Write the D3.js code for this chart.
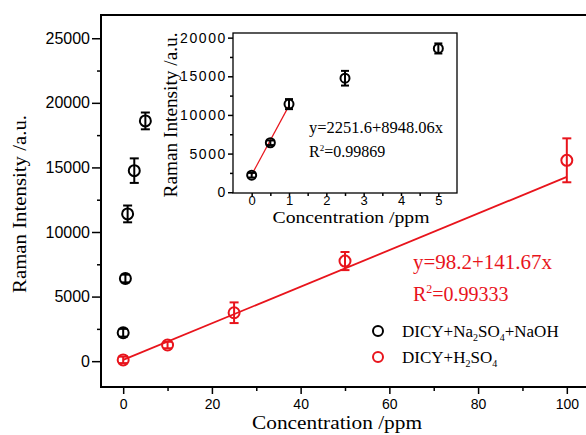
<!DOCTYPE html>
<html><head><meta charset="utf-8">
<script src="https://cdn.jsdelivr.net/npm/d3@7"></script>
<style>
body{margin:0;background:#fff;}
svg{display:block;}
.serif{font-family:"Liberation Serif","Times New Roman",serif;}
.sans{font-family:"Liberation Sans",Arial,sans-serif;}
</style></head><body>
<svg id="c" width="586" height="435"></svg>
<script>
// ---- data ----
const blackX = [0, 0.5, 1, 2.5, 5];
const blackY = [2200, 6400, 11400, 14750, 18600];
const blackErr = [300, 300, 650, 950, 650];
const redX = [0, 10, 25, 50, 100];
const redY = [100, 1250, 3750, 7750, 15550];
const redErr = [250, 250, 800, 700, 1700];
const redFit = [98.2, 141.67];        // intercept, slope
const redFitRange = [0, 100];
const blackFit = [2251.6, 8948.06];
const blackFitRange = [0, 1];
const mainXTicks = [0, 20, 40, 60, 80, 100];
const mainYTicks = [0, 5000, 10000, 15000, 20000, 25000];
const insetXTicks = [0, 1, 2, 3, 4, 5];
const insetYTicks = [0, 5000, 10000, 15000, 20000];
const legendLabels = ["DICY+Na|2|SO|4|+NaOH", "DICY+H|2|SO|4|"];

const svg = d3.select("#c");
const RED = "#e8141c";

// ---- main ----
const x = d3.scaleLinear().domain([-5, 105]).range([101, 589]);
const y = d3.scaleLinear().domain([-2000, 26800]).range([387, 15]);

function axisStyle(g, fs, ls) {
  g.select(".domain").remove();
  g.selectAll("line").attr("stroke", "#000").attr("stroke-width", 1.5);
  g.selectAll("text").attr("class", "sans").attr("font-size", fs).attr("fill", "#000")
    .attr("letter-spacing", ls);
}

// minor ticks
const gxm = svg.append("g").attr("transform", "translate(0,387)")
  .call(d3.axisBottom(x).tickValues([10, 30, 50, 70, 90]).tickSize(4).tickFormat(""));
axisStyle(gxm, 14, 0);
const gx = svg.append("g").attr("transform", "translate(0,387)")
  .call(d3.axisBottom(x).tickValues(mainXTicks).tickSize(7).tickPadding(5).tickFormat(d3.format("d")));
axisStyle(gx, 14, 0);

const gym = svg.append("g").attr("transform", "translate(101,0)")
  .call(d3.axisLeft(y).tickValues([2500, 7500, 12500, 17500, 22500]).tickSize(4).tickFormat(""));
axisStyle(gym, 14, 0);
const gy = svg.append("g").attr("transform", "translate(101,0)")
  .call(d3.axisLeft(y).tickValues(mainYTicks).tickSize(9).tickPadding(2).tickFormat(d3.format("d")));
axisStyle(gy, 16, 0);

// frame
svg.append("rect").attr("x", 101).attr("y", 15).attr("width", 488).attr("height", 372)
  .attr("fill", "none").attr("stroke", "#000").attr("stroke-width", 2);

// axis titles
svg.append("text").attr("class", "serif").attr("x", 337).attr("y", 429)
  .attr("text-anchor", "middle").attr("font-size", 19)
  .attr("textLength", 170).attr("lengthAdjust", "spacingAndGlyphs").text("Concentration /ppm");
svg.append("text").attr("class", "serif").attr("transform", "translate(26,204) rotate(-90)")
  .attr("text-anchor", "middle").attr("font-size", 19)
  .attr("textLength", 178).attr("lengthAdjust", "spacingAndGlyphs").text("Raman Intensity /a.u.");

// red fit line
svg.append("line")
  .attr("x1", x(redFitRange[0])).attr("y1", y(redFit[0] + redFit[1] * redFitRange[0]))
  .attr("x2", x(redFitRange[1])).attr("y2", y(redFit[0] + redFit[1] * redFitRange[1]))
  .attr("stroke", RED).attr("stroke-width", 1.8);

function drawPoints(g, xs, ys, es, sx, sy, color, r, cap) {
  const data = xs.map((v, i) => ({x: v, y: ys[i], e: es[i]}));
  const grp = g.append("g");
  const pts = grp.selectAll("g").data(data).join("g");
  pts.append("line").attr("x1", d => sx(d.x)).attr("x2", d => sx(d.x))
    .attr("y1", d => sy(d.y + d.e)).attr("y2", d => sy(d.y - d.e))
    .attr("stroke", color).attr("stroke-width", 2);
  pts.append("line").attr("x1", d => sx(d.x) - cap).attr("x2", d => sx(d.x) + cap)
    .attr("y1", d => sy(d.y + d.e)).attr("y2", d => sy(d.y + d.e))
    .attr("stroke", color).attr("stroke-width", 2);
  pts.append("line").attr("x1", d => sx(d.x) - cap).attr("x2", d => sx(d.x) + cap)
    .attr("y1", d => sy(d.y - d.e)).attr("y2", d => sy(d.y - d.e))
    .attr("stroke", color).attr("stroke-width", 2);
  pts.append("circle").attr("cx", d => sx(d.x)).attr("cy", d => sy(d.y)).attr("r", r)
    .attr("fill", "none").attr("stroke", color).attr("stroke-width", 2);
}
drawPoints(svg, redX, redY, redErr, x, y, RED, 5.5, 4.5);
drawPoints(svg, blackX, blackY, blackErr, x, y, "#000", 5.5, 4.5);

// red equation
svg.append("text").attr("class", "serif").attr("x", 413).attr("y", 269)
  .attr("font-size", 20).attr("fill", RED)
  .attr("textLength", 139).attr("lengthAdjust", "spacingAndGlyphs")
  .text(`y=${redFit[0]}+${redFit[1]}x`);
const r2r = svg.append("text").attr("class", "serif").attr("x", 413).attr("y", 301)
  .attr("font-size", 20).attr("fill", RED);
r2r.append("tspan").text("R");
r2r.append("tspan").attr("dy", -8).attr("font-size", 12).text("2");
r2r.append("tspan").attr("dy", 8).text("=0.99333");

// legend
const legColors = ["#000", RED];
legendLabels.forEach((lab, i) => {
  const cy = 331 + i * 26;
  svg.append("circle").attr("cx", 378).attr("cy", cy).attr("r", 5).attr("fill", "none")
    .attr("stroke", legColors[i]).attr("stroke-width", 2);
  const t = svg.append("text").attr("class", "serif").attr("x", 402).attr("y", cy + 6)
    .attr("font-size", 17).attr("fill", "#000");
  lab.split("|").forEach((part, j) => {
    if (!part) return;
    if (j % 2 === 1) t.append("tspan").attr("dy", 4).attr("font-size", 10).text(part);
    else t.append("tspan").attr("dy", j === 0 ? 0 : -4).text(part);
  });
});

// ---- inset ----
const ix = d3.scaleLinear().domain([-0.5, 5.5]).range([233, 457]);
const iy = d3.scaleLinear().domain([-100, 20600]).range([193, 33]);

const ixm = svg.append("g").attr("transform", "translate(0,193)")
  .call(d3.axisBottom(ix).tickValues([0.5, 1.5, 2.5, 3.5, 4.5]).tickSize(3).tickFormat(""));
axisStyle(ixm, 13, 0);
const ixg = svg.append("g").attr("transform", "translate(0,193)")
  .call(d3.axisBottom(ix).tickValues(insetXTicks).tickSize(3).tickPadding(0).tickFormat(d3.format("d")));
axisStyle(ixg, 13, 0);
const iym = svg.append("g").attr("transform", "translate(233,0)")
  .call(d3.axisLeft(iy).tickValues([2500, 7500, 12500, 17500]).tickSize(3).tickFormat(""));
axisStyle(iym, 13, 0);
const iyg = svg.append("g").attr("transform", "translate(233,0)")
  .call(d3.axisLeft(iy).tickValues(insetYTicks).tickSize(5).tickPadding(1).tickFormat(d3.format("d")));
axisStyle(iyg, 14, 1.6);

svg.append("rect").attr("x", 233).attr("y", 33).attr("width", 224).attr("height", 160)
  .attr("fill", "none").attr("stroke", "#000").attr("stroke-width", 1.3);

svg.append("text").attr("class", "serif").attr("x", 351).attr("y", 223)
  .attr("text-anchor", "middle").attr("font-size", 16)
  .attr("textLength", 157).attr("lengthAdjust", "spacingAndGlyphs").text("Concentration /ppm");
svg.append("text").attr("class", "serif").attr("transform", "translate(177,115) rotate(-90)")
  .attr("text-anchor", "middle").attr("font-size", 18)
  .attr("textLength", 165).attr("lengthAdjust", "spacingAndGlyphs").text("Raman Intensity /a.u.");

svg.append("line")
  .attr("x1", ix(blackFitRange[0])).attr("y1", iy(blackFit[0] + blackFit[1] * blackFitRange[0]))
  .attr("x2", ix(blackFitRange[1])).attr("y2", iy(blackFit[0] + blackFit[1] * blackFitRange[1]))
  .attr("stroke", RED).attr("stroke-width", 1.2);

drawPoints(svg, blackX, blackY, blackErr, ix, iy, "#000", 4.5, 4);

svg.append("text").attr("class", "serif").attr("x", 309).attr("y", 133)
  .attr("font-size", 16).attr("fill", "#000")
  .attr("textLength", 134).attr("lengthAdjust", "spacingAndGlyphs")
  .text(`y=${blackFit[0]}+${blackFit[1]}x`);
const r2b = svg.append("text").attr("class", "serif").attr("x", 309).attr("y", 157)
  .attr("font-size", 16).attr("fill", "#000");
r2b.append("tspan").text("R");
r2b.append("tspan").attr("dy", -6).attr("font-size", 9).text("2");
r2b.append("tspan").attr("dy", 6).text("=0.99869");
</script>
</body></html>
